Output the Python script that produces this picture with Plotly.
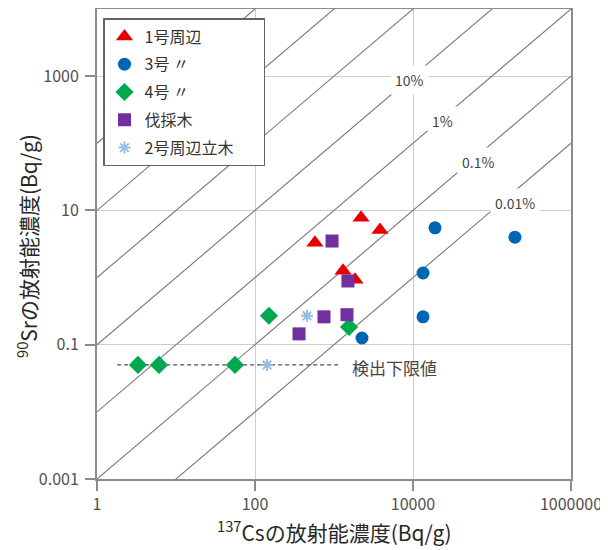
import math
import plotly.graph_objects as go

# ---- data ----
unit1_cs = [2200, 3820, 574, 1300, 1845]
unit1_sr = [7.8, 5.1, 3.3, 1.26, 0.925]

unit3_cs = [19000, 195000, 13400, 13400, 2260]
unit3_sr = [5.5, 4.0, 1.17, 0.26, 0.126]

unit4_cs = [150, 1550, 3.3, 6.1, 55.8]
unit4_sr = [0.27, 0.184, 0.05, 0.05, 0.05]

felled_cs = [944, 1500, 747, 1460, 361]
felled_sr = [3.5, 0.89, 0.26, 0.28, 0.145]

unit2_tree_cs = [455, 142]
unit2_tree_sr = [0.27, 0.05]

detect_x = [1.8, 1200]
detect_y = [0.05, 0.05]

ratios = [1e-4, 1e-3, 1e-2, 1e-1, 1, 10, 100]
ratio_labels = ["0.01%", "0.1%", "1%", "10%"]
ratio_label_x = [195000, 66500, 23300, 8900]
ratio_label_y = [13, 53, 216, 883]

x_ticks = [1, 100, 10000, 1000000]
x_ticktext = ["1", "100", "10000", "1000000"]
y_ticks = [0.001, 0.1, 10, 1000]
y_ticktext = ["0.001", "0.1", "10", "1000"]

FONT = "Noto Sans CJK JP"
NB = "\u00a0"
fig = go.Figure()

# ratio lines
x_span = [1, 1e6]
for r in ratios:
    fig.add_trace(go.Scatter(
        x=x_span, y=[r * v for v in x_span], mode="lines",
        line=dict(color="rgb(120,120,120)", width=1.1),
        showlegend=False, hoverinfo="skip"))

# detection limit
fig.add_trace(go.Scatter(
    x=detect_x, y=detect_y, mode="lines",
    line=dict(color="rgb(80,80,80)", width=1.3, dash="4px,3px"),
    showlegend=False, hoverinfo="skip"))

series = [
    ("1号周辺", unit1_cs, unit1_sr, "triangle-up", "rgb(232,0,0)", 15, None),
    ("3号 〃", unit3_cs, unit3_sr, "circle", "rgb(0,102,180)", 13, None),
    ("4号 〃", unit4_cs, unit4_sr, "diamond", "rgb(0,168,80)", 14, None),
    ("伐採木", felled_cs, felled_sr, "square", "rgb(112,48,160)", 13, None),
    ("2号周辺立木" + NB * 7, unit2_tree_cs, unit2_tree_sr, "asterisk-open", "rgb(150,190,230)", 10, 2),
]
for i, (name, xs, ys, sym, col, size, lw) in enumerate(series):
    marker = dict(symbol=sym, color=col, size=size)
    if lw:
        marker["line"] = dict(color=col, width=lw)
    else:
        marker["line"] = dict(width=0)
    fig.add_trace(go.Scatter(
        x=xs, y=ys, mode="markers", name=name, marker=marker,
        legendgroup=f"g{i}"))

for t, lx, ly in zip(ratio_labels, ratio_label_x, ratio_label_y):
    fig.add_annotation(x=math.log10(lx), y=math.log10(ly), xref="x", yref="y",
                       text=t, showarrow=False,
                       font=dict(family=FONT, size=14, color="rgb(70,70,70)"),
                       bgcolor="white", borderpad=4)

# page offset (browser body margin 8px) compensated in the figure size / margins
L, R, T, B = 89, 37, 1, 71
FW, FH = 600, 542
PW, PH = FW - L - R, FH - T - B

fig.add_annotation(x=(350 - 97) / PW, y=1 - (367 - 9) / PH, xref="paper", yref="paper",
                   text="検出下限値", showarrow=False, xanchor="left", yanchor="middle",
                   font=dict(family=FONT, size=17, color="rgb(70,70,70)"))

# axis titles, placed as text
fig.add_annotation(x=(27 - 97) / PW, y=1 - (246 - 9) / PH, xref="paper", yref="paper",
                   text="<sup>90</sup>Srの放射能濃度(Bq/g)", showarrow=False,
                   textangle=-90, xanchor="center", yanchor="middle", borderpad=0,
                   font=dict(family=FONT, size=21, color="rgb(40,40,40)"))
fig.add_annotation(x=(334 - 97) / PW, y=1 - (531 - 9) / PH, xref="paper", yref="paper",
                   text="<sup>137</sup>Csの放射能濃度(Bq/g)", showarrow=False,
                   xanchor="center", yanchor="middle", borderpad=0,
                   font=dict(family=FONT, size=21, color="rgb(40,40,40)"))

axis_common = dict(
    type="log", showgrid=True, gridcolor="rgb(205,205,205)", gridwidth=1,
    showline=True, linecolor="rgb(140,140,140)", linewidth=2, mirror=True,
    ticks="outside", ticklen=10, tickcolor="rgb(140,140,140)", tickwidth=1.5,
    zeroline=False, automargin=False,
    tickfont=dict(family=FONT, size=16, color="rgb(80,80,80)"),
)

fig.update_layout(
    width=FW, height=FH,
    margin=dict(l=L, r=R, t=T, b=B),
    plot_bgcolor="white", paper_bgcolor="white",
    font=dict(family=FONT),
    xaxis=dict(axis_common, range=[0, 6], tickvals=x_ticks, ticktext=x_ticktext,
               ticklabelstandoff=0),
    yaxis=dict(axis_common, range=[-3, 4], tickvals=y_ticks, ticktext=y_ticktext,
               ticklabelstandoff=3),
    legend=dict(x=6 / PW, y=1 - 9 / PH, xanchor="left", yanchor="top",
                bgcolor="white", bordercolor="rgb(100,100,100)", borderwidth=1.5,
                font=dict(family=FONT, size=16, color="rgb(50,50,50)"),
                tracegroupgap=4, itemwidth=30),
    showlegend=True,
)

fig.write_html("out.html")
